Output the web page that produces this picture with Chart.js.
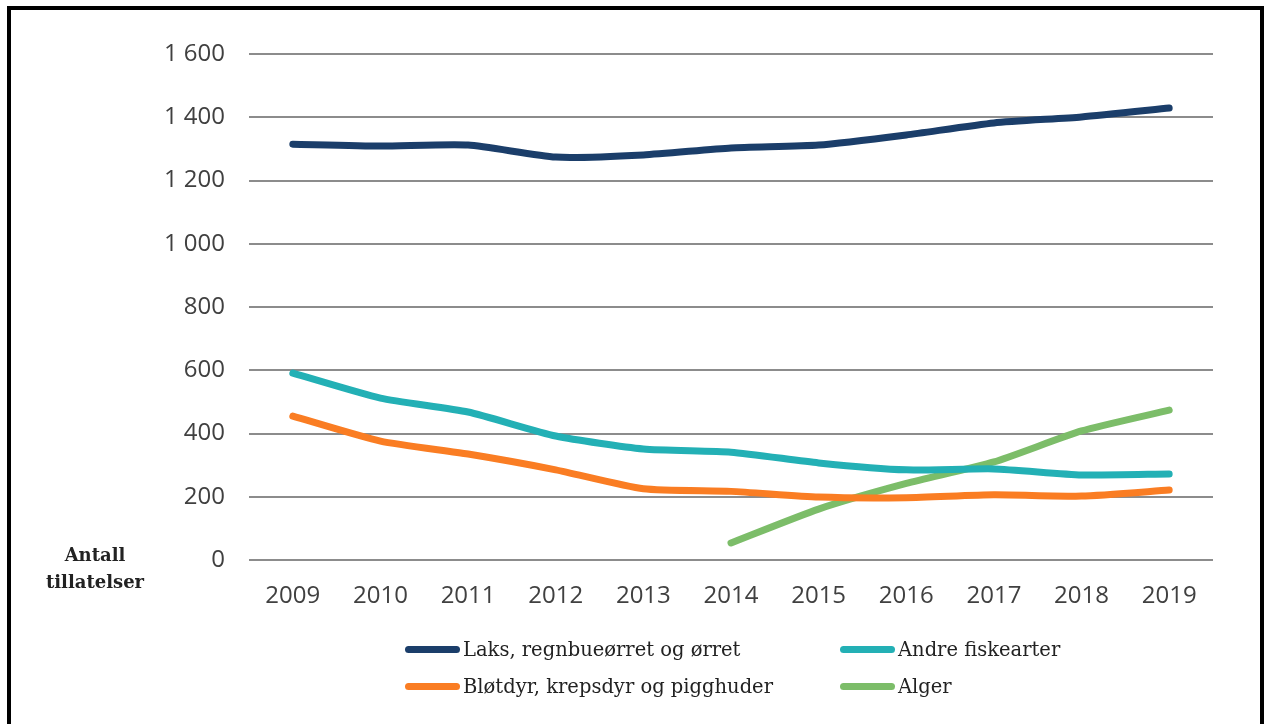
<!DOCTYPE html>
<html>
<head>
<meta charset="utf-8">
<script src="https://cdn.jsdelivr.net/npm/chart.js@4/dist/chart.umd.min.js"></script>
<style>
    body { margin: 0; background: #fff; overflow: hidden; }
    #frame {
        position: absolute; left: 7px; top: 6px; width: 1249px; height: 800px;
        border: 4px solid #000; border-bottom: none;
    }
    #chart { position: absolute; left: 0; top: 0; }
    #ytitle {
        position: absolute; left: 35px; top: 541px; width: 120px; text-align: center;
        font: bold 18px "DejaVu Serif", serif; line-height: 27px; color: #222;
    }
    .leg { position: absolute; font: 19.5px "DejaVu Serif", serif; color: #222; white-space: nowrap; }
    .leg span.swatch {
        position: absolute; left: 0; top: 50%; width: 55px; height: 7px; margin-top: -4px; border-radius: 4px;
    }
    .leg span.txt { margin-left: 58px; }
</style>
</head>
<body>
<canvas id="chart" width="1267" height="620"></canvas>
<div id="frame"></div>
<div id="ytitle">Antall<br>tillatelser</div>
<div id="legend"></div>
<script>
// Data
const years = ['2009', '2010', '2011', '2012', '2013', '2014', '2015', '2016', '2017', '2018', '2019'];
const laks = [1315, 1309, 1312, 1274, 1281, 1303, 1312, 1344, 1382, 1401, 1429];
const andreFisk = [591, 512, 468, 392, 351, 341, 307, 285, 288, 269, 272];
const blotdyr = [455, 376, 335, 285, 225, 217, 199, 197, 206, 202, 221];
const alger = [null, null, null, null, null, 54, 161, 242, 310, 408, 474];
const yTicks = [0, 200, 400, 600, 800, 1000, 1200, 1400, 1600];

const seriesNames = [
    'Laks, regnbueørret og ørret',
    'Andre fiskearter',
    'Bløtdyr, krepsdyr og pigghuder',
    'Alger'
];
const seriesColors = ['#1b3e6a', '#23b0b5', '#fa7d23', '#7cbd69'];
const seriesData = [laks, andreFisk, blotdyr, alger];

function formatThousands(v) {
    return String(v).replace(/\B(?=(\d{3})+(?!\d))/g, ' ');
}

const chart = new Chart(document.getElementById('chart').getContext('2d'), {
    type: 'line',
    data: {
        labels: years,
        datasets: seriesData.map((d, i) => ({
            label: seriesNames[i],
            data: d,
            borderColor: seriesColors[i],
            backgroundColor: seriesColors[i],
            borderWidth: 7,
            borderCapStyle: 'round',
            borderJoinStyle: 'round',
            pointRadius: 0,
            tension: 0.2,
            fill: false
        }))
    },
    options: {
        responsive: false,
        animation: false,
        devicePixelRatio: 1,
        layout: { padding: { left: 0, right: 54, top: 54, bottom: 0 } },
        plugins: {
            legend: { display: false },
            tooltip: { enabled: false }
        },
        scales: {
            x: {
                offset: true,
                grid: { display: false, drawTicks: false },
                border: { display: false },
                ticks: {
                    color: '#404040',
                    font: { family: 'Open Sans', size: 24 },
                    padding: 22
                },
                afterFit: scale => { scale.height = 60; }
            },
            y: {
                min: 0,
                max: 1600,
                afterBuildTicks: scale => { scale.ticks = yTicks.map(v => ({ value: v })); },
                grid: { color: '#8c8c8c', lineWidth: 2, drawTicks: false },
                border: { display: false },
                ticks: {
                    color: '#404040',
                    font: { family: 'Open Sans', size: 24 },
                    padding: 24,
                    callback: v => formatThousands(v)
                },
                afterFit: scale => { scale.width = 249; }
            }
        }
    }
});

// Legend in two columns, built from the datasets
const legendPos = [
    { x: 405, y: 650 }, { x: 840, y: 650 },
    { x: 405, y: 687 }, { x: 840, y: 687 }
];
const legendEl = document.getElementById('legend');
chart.data.datasets.forEach((ds, i) => {
    const item = document.createElement('div');
    item.className = 'leg';
    item.style.left = legendPos[i].x + 'px';
    item.style.top = (legendPos[i].y - 14) + 'px';
    item.style.lineHeight = '28px';
    item.innerHTML = '<span class="swatch" style="background:' + ds.borderColor + '"></span><span class="txt">' + ds.label + '</span>';
    legendEl.appendChild(item);
});
</script>
</body>
</html>
